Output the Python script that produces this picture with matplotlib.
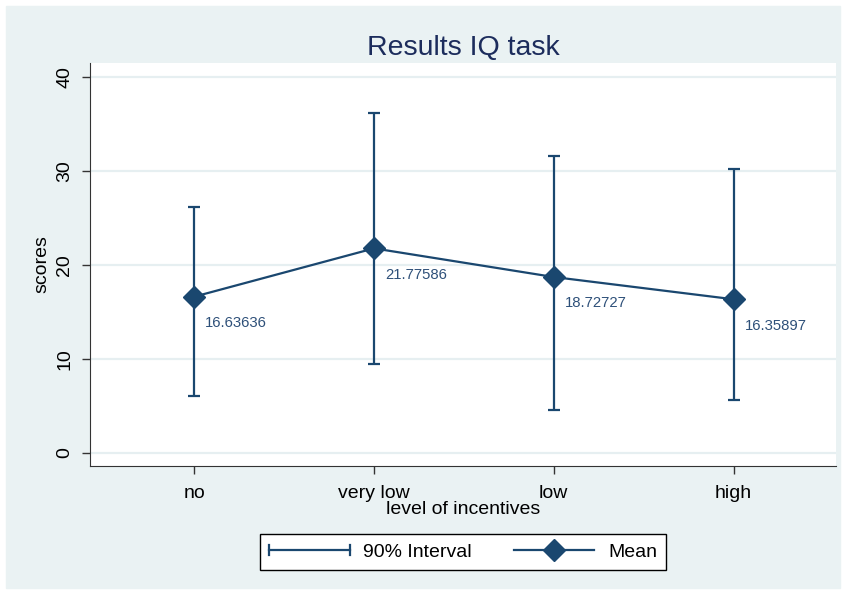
import matplotlib.pyplot as plt
import numpy as np
from matplotlib.lines import Line2D
from matplotlib.patches import Rectangle
from matplotlib.legend_handler import HandlerBase

plt.rcParams['font.family'] = ['Liberation Sans', 'DejaVu Sans']

levels = ["no", "very low", "low", "high"]
means = [16.63636, 21.77586, 18.72727, 16.35897]
ci_low = [6.1, 9.5, 4.55, 5.6]
ci_high = [26.2, 36.2, 31.65, 30.2]

navy = "#1a476f"
grid_c = "#e6eff1"
bg = "#eaf2f3"


class CappedLineHandler(HandlerBase):
    # horizontal line with a small cap at each end
    def create_artists(self, legend, orig_handle, xdescent, ydescent,
                       width, height, fontsize, trans):
        y = height / 2 - ydescent
        x0, x1 = -xdescent, width - xdescent
        cap = 0.4 * height
        arts = [Line2D([x0, x1], [y, y], color=navy, lw=1.6),
                Line2D([x0, x0], [y - cap, y + cap], color=navy, lw=1.6),
                Line2D([x1, x1], [y - cap, y + cap], color=navy, lw=1.6)]
        for a in arts:
            a.set_transform(trans)
        return arts


fig = plt.figure(figsize=(8.46, 5.94), dpi=100)
fig.patches.append(Rectangle((6 / 846, 6 / 594), 834 / 846, 582 / 594,
                             transform=fig.transFigure, color=bg, zorder=-10))

ax = fig.add_axes([90 / 846, 128 / 594, 746 / 846, 403 / 594])
x = np.arange(1, len(levels) + 1)
m = np.array(means)
yerr = [m - np.array(ci_low), np.array(ci_high) - m]

ax.errorbar(x, m, yerr=yerr, fmt="none", ecolor=navy, elinewidth=1.6,
            capsize=4.5, capthick=1.6, zorder=3)
ax.plot(x, m, color=navy, lw=1.6, marker="D", ms=11.5, zorder=4)

for xi, v in zip(x, means):
    ax.annotate(f"{v:.5f}", (xi, v), xytext=(8, -19), textcoords="offset points",
                ha="left", va="center", fontsize=10.7, color="#2e5079")

ax.set_xlim(0.42, 4.57)
ax.set_ylim(-1.38, 41.5)
ax.set_yticks([0, 10, 20, 30, 40])
ax.set_yticklabels(["0", "10", "20", "30", "40"], rotation=90, va="center",
                   fontsize=14)
ax.set_xticks(x)
ax.set_xticklabels(levels, fontsize=14)
ax.tick_params(axis="both", length=6, width=1, color="#333333", pad=6)
ax.tick_params(axis="x", pad=8)
ax.grid(axis="y", color=grid_c, lw=1.6)
ax.set_axisbelow(True)
for s in ["top", "right"]:
    ax.spines[s].set_visible(False)
ax.spines["left"].set_color("#333333")
ax.spines["bottom"].set_color("#333333")

ax.set_ylabel("scores", fontsize=14, labelpad=4)
ax.set_xlabel("level of incentives", fontsize=14, labelpad=-1)
ax.set_title("Results IQ task", fontsize=20.5, color="#1c2c5c", pad=6)

interval_handle = Line2D([0], [0], color=navy)
mean_handle = Line2D([0], [0], color=navy, lw=1.6, marker="D", ms=11.5)
leg = fig.legend([interval_handle, mean_handle], ["90% Interval", "Mean"],
                 handler_map={interval_handle: CappedLineHandler()}, ncol=2,
                 loc="center", bbox_to_anchor=(463 / 846, 1 - 552 / 594),
                 fontsize=14, frameon=True, fancybox=False, edgecolor="black",
                 framealpha=1, facecolor="white", handlelength=4.15,
                 handletextpad=0.7, columnspacing=2.15, borderpad=0.45,
                 borderaxespad=0)
leg.get_frame().set_linewidth(1)

fig.savefig("out.png", dpi=100, facecolor="white")
